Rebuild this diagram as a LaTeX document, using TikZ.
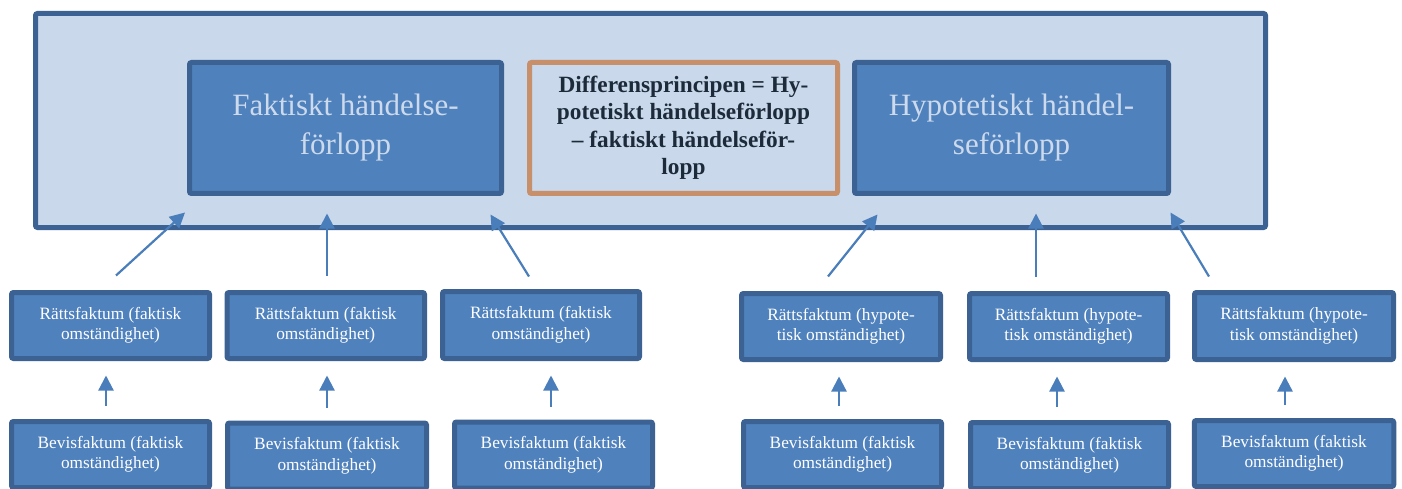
\documentclass[tikz,border=0pt]{standalone}
\usepackage{fontspec}
\setmainfont{Liberation Serif}
\usetikzlibrary{arrows.meta}
\definecolor{outerfill}{HTML}{C9D8EA}
\definecolor{boxfill}{HTML}{4F81BD}
\definecolor{boxline}{HTML}{3B6293}
\definecolor{orangeline}{HTML}{C8906A}
\definecolor{midtext}{HTML}{1C2A3A}
\definecolor{bigtext}{HTML}{CCDAEC}
\definecolor{arrcol}{HTML}{4A7EBB}
\tikzset{
  outerbox/.style={draw=boxline, fill=outerfill, line width=5pt, rounded corners=2pt, minimum width=1230pt, minimum height=214pt, inner sep=0pt},
  bigbox/.style={draw=boxline, fill=boxfill, line width=5pt, rounded corners=2pt, minimum width=312pt, minimum height=131pt, inner sep=0pt, align=center, text=bigtext, font=\fontsize{31}{39}\selectfont},
  midbox/.style={draw=orangeline, fill=outerfill, line width=5pt, rounded corners=2pt, minimum width=308pt, minimum height=131pt, inner sep=0pt, align=center, text=midtext, font=\fontsize{23.3}{27.5}\selectfont\bfseries},
  smallbox/.style={draw=boxline, fill=boxfill, line width=5pt, rounded corners=2pt, minimum width=198pt, minimum height=66pt, inner sep=0pt, align=center, text=white, font=\fontsize{17.3}{20.5}\selectfont},
  arr/.style={draw=arrcol, line width=2.2pt, -{Triangle[length=15pt,width=15pt]}},
  uparr/.style={arr, shorten <=13pt, shorten >=14.5pt}
}
\begin{document}
\begin{tikzpicture}[x=1pt,y=-1pt]
\useasboundingbox (0,0) rectangle (1402,489);
\node[outerbox] (outer) at (650.5,120.5) {};
\node[bigbox] (fakt) at (345.5,128) {Faktiskt händelse-\\förlopp};
\node[midbox] (mid) at (683.5,128) {Differensprincipen = Hy-\\potetiskt händelseförlopp\\– faktiskt händelseför-\\lopp};
\node[bigbox, minimum width=314pt] (hyp) at (1011.5,128) {Hypotetiskt händel-\\seförlopp};

\node[smallbox] (r1) at (110.5,325.5) {Rättsfaktum (faktisk\\omständighet)};
\node[smallbox, minimum width=197.5pt] (r2) at (325.75,325.5) {Rättsfaktum (faktisk\\omständighet)};
\node[smallbox, minimum width=197pt, minimum height=67pt] (r3) at (541,325) {Rättsfaktum (faktisk\\omständighet)};
\node[smallbox, minimum width=199pt] (r4) at (841,326.5) {Rättsfaktum (hypote-\\tisk omständighet)};
\node[smallbox] (r5) at (1068.5,326.5) {Rättsfaktum (hypote-\\tisk omständighet)};
\node[smallbox, minimum width=199pt, minimum height=67pt] (r6) at (1294,326) {Rättsfaktum (hypote-\\tisk omständighet)};

\node[smallbox] (b1) at (110.5,454.5) {Bevisfaktum (faktisk\\omständighet)};
\node[smallbox, minimum width=199pt] (b2) at (327,456) {Bevisfaktum (faktisk\\omständighet)};
\node[smallbox] (b3) at (553.5,455) {Bevisfaktum (faktisk\\omständighet)};
\node[smallbox] (b4) at (842.5,454.5) {Bevisfaktum (faktisk\\omständighet)};
\node[smallbox] (b5) at (1069.5,455.5) {Bevisfaktum (faktisk\\omständighet)};
\node[smallbox, minimum width=199.5pt] (b6) at (1294,453.5) {Bevisfaktum (faktisk\\omständighet)};

% Bevisfaktum -> Rättsfaktum
\draw[uparr] ([xshift=-4.5pt]b1.north) -- ([xshift=-4.5pt]r1.south);
\draw[uparr] ([xshift=0pt]b2.north) -- ([xshift=1.25pt]r2.south);
\draw[uparr] ([xshift=-2.5pt]b3.north) -- ([xshift=10pt]r3.south);
\draw[uparr] ([xshift=-3.5pt]b4.north) -- ([xshift=-2pt]r4.south);
\draw[uparr] ([xshift=-12.5pt]b5.north) -- ([xshift=-11.5pt]r5.south);
\draw[uparr] ([xshift=-9pt]b6.north) -- ([xshift=-9pt]r6.south);

% Rättsfaktum -> händelseförlopp
\draw[arr] ([xshift=5.5pt,yshift=14.5pt]r1.north) -- ([xshift=-2pt,yshift=-16.5pt]fakt.south west);
\draw[arr] ([xshift=1.25pt,yshift=14.5pt]r2.north) -- ([xshift=-18.5pt,yshift=-17.5pt]fakt.south);
\draw[arr] ([xshift=-12pt,yshift=12.5pt]r3.north) -- ([xshift=-13.5pt,yshift=-18.5pt]fakt.south east);
\draw[arr] ([xshift=-13pt,yshift=14.5pt]r4.north) -- ([xshift=25.5pt,yshift=-18.5pt]hyp.south west);
\draw[arr] ([xshift=-32.5pt,yshift=14.5pt]r5.north) -- ([xshift=24.5pt,yshift=-17.5pt]hyp.south);
\draw[arr] ([xshift=-85pt,yshift=13.5pt]r6.north) -- ([xshift=-0.5pt,yshift=-16.5pt]hyp.south east);
\end{tikzpicture}
\end{document}
